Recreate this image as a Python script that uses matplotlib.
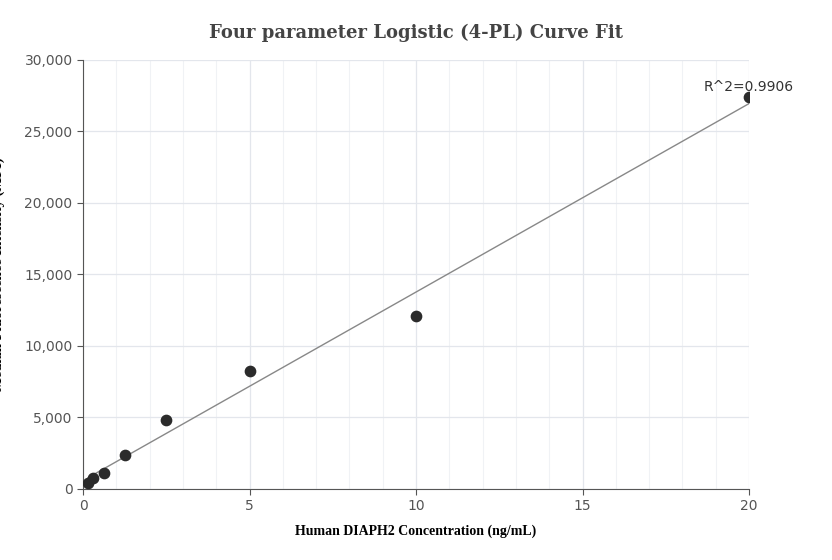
import numpy as np
import matplotlib.pyplot as plt
from matplotlib.ticker import FuncFormatter, MultipleLocator

conc = [0.156, 0.3125, 0.625, 1.25, 2.5, 5, 10, 20]
mfi = [400, 750, 1100, 2350, 4850, 8250, 12100, 27400]
r2_label = "R^2=0.9906"

fig = plt.figure(figsize=(8.32, 5.6), dpi=100)
ax = fig.add_axes([0.0998, 0.127, 0.8005, 0.766])

# fitted line
k, b = np.polyfit(conc, mfi, 1)
xs = np.linspace(min(conc), max(conc), 100)
ax.plot(xs, k * xs + b, color="#888888", lw=1, zorder=2)
ax.scatter(conc, mfi, s=55, color="#2b2b2b", zorder=3)
ax.text(20, 27600, r2_label, ha="center", va="bottom", fontsize=10, color="#333333")

ax.set_xlim(0, 20)
ax.set_ylim(0, 30000)
ax.xaxis.set_major_locator(MultipleLocator(5))
ax.xaxis.set_minor_locator(MultipleLocator(1))
ax.yaxis.set_major_locator(MultipleLocator(5000))
ax.yaxis.set_major_formatter(FuncFormatter(lambda v, p: f"{int(v):,}"))
ax.grid(which="major", color="#e3e6ec", lw=0.9)
ax.grid(which="minor", axis="x", color="#f0f2f5", lw=0.8)
ax.set_axisbelow(True)
for s in ["top", "right"]:
    ax.spines[s].set_visible(False)
for s in ["left", "bottom"]:
    ax.spines[s].set_color("#555555")
ax.tick_params(which="both", length=0, labelsize=10, colors="#555555")
ax.tick_params(which="major", length=4)

ax.set_title("Four parameter Logistic (4-PL) Curve Fit", fontsize=13, fontweight="bold",
             family="DejaVu Serif", color="#444444", pad=16)
ax.set_xlabel("Human DIAPH2 Concentration (ng/mL)", fontsize=10, fontweight="bold",
              family="Liberation Serif", labelpad=8)
ax.set_ylabel("Median Fluorescence Intensity (MFI)", fontsize=10.5, fontweight="bold",
              family="Liberation Serif", labelpad=14)

fig.savefig("out.png", dpi=100)
